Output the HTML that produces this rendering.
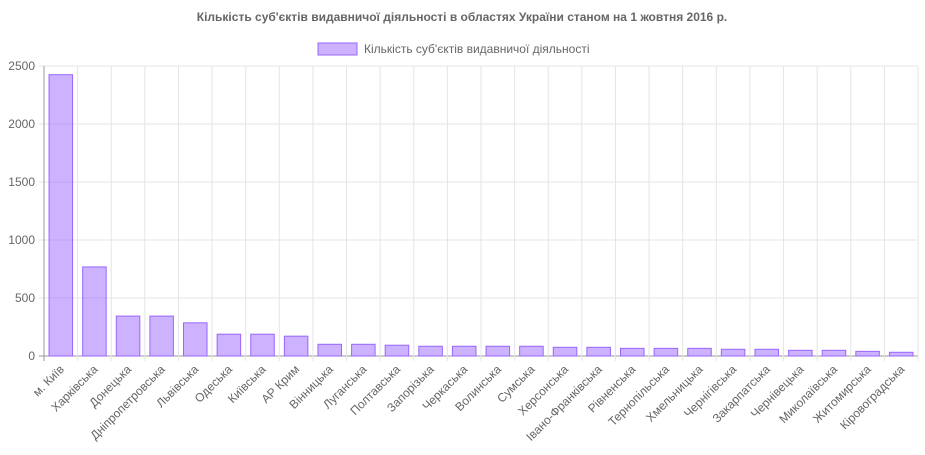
<!DOCTYPE html>
<html><head><meta charset="utf-8"><style>
body{margin:0;background:#fff;}
svg{display:block;font-family:"Liberation Sans",sans-serif;}
</style></head><body>
<svg id="chart" width="925" height="455">
<text x="462" y="21" text-anchor="middle" font-size="12" font-weight="bold" fill="#666">Кількість суб'єктів видавничої діяльності в областях України станом на 1 жовтня 2016 р.</text>
<g>
<rect x="318" y="43" width="39" height="12" fill="rgba(153,102,255,0.5)" stroke="#9966ff" stroke-width="1"/>
<text x="364" y="53" font-size="12" fill="#666">Кількість суб'єктів видавничої діяльності</text>
</g>
<g id="grid"></g><g id="bars"></g><g id="labels"></g>
</svg>
<script>
const categories=["м. Київ","Харківська","Донецька","Дніпропетровська","Львівська","Одеська","Київська","АР Крим","Вінницька","Луганська","Полтавська","Запорізька","Черкаська","Волинська","Сумська","Херсонська","Івано-Франківська","Рівненська","Тернопільська","Хмельницька","Чернігівська","Закарпатська","Чернівецька","Миколаївська","Житомирська","Кіровоградська"];
const values=[2425,768,344,344,286,188,188,171,101,101,93,84,84,84,84,75,75,66,66,66,58,58,49,49,40,32];
const yTicks=[0,500,1000,1500,2000,2500];
const NS="http://www.w3.org/2000/svg";
const L=44,R=918,T=66,B=356,YMAX=2500;
const bw=(R-L)/categories.length;
const y=v=>B-(v/YMAX)*(B-T);
const x=i=>L+i*bw;
const g=document.getElementById('grid'),bg=document.getElementById('bars'),lg=document.getElementById('labels');
function mk(tag,attrs,parent){const e=document.createElementNS(NS,tag);for(const k in attrs)e.setAttribute(k,attrs[k]);parent.appendChild(e);return e;}
yTicks.forEach(t=>{
 const ln=mk('line',{x1:L-5,x2:R,y1:y(t),y2:y(t),stroke:t===0?'#999':'#e5e5e5','stroke-width':1},g);
 
 
 const tx=mk('text',{x:L-9,y:y(t)+4,'text-anchor':'end','font-size':12,fill:'#666'},g);
 tx.textContent=t;
 
 
});
for(let i=0;i<=categories.length;i++){
 const ln=mk('line',{x1:x(i),x2:x(i),y1:T,y2:B+5,stroke:i===0?'#999':'#e5e5e5','stroke-width':1},g);
 
 
}
categories.forEach((c,i)=>{
 const w=bw*0.7,cx=x(i)+bw/2;
 const r=mk('rect',{x:cx-w/2,y:y(values[i]),width:w,height:B-y(values[i]),fill:'rgba(153,102,255,0.5)',stroke:'#9966ff','stroke-width':1},bg);
 
 
 const t=mk('text',{x:cx+4,y:B+14,'text-anchor':'end','font-size':12,fill:'#666',transform:`rotate(-45 ${cx+4} ${B+14})`},lg);
 t.textContent=c;
 
 
});
</script>
</body></html>
